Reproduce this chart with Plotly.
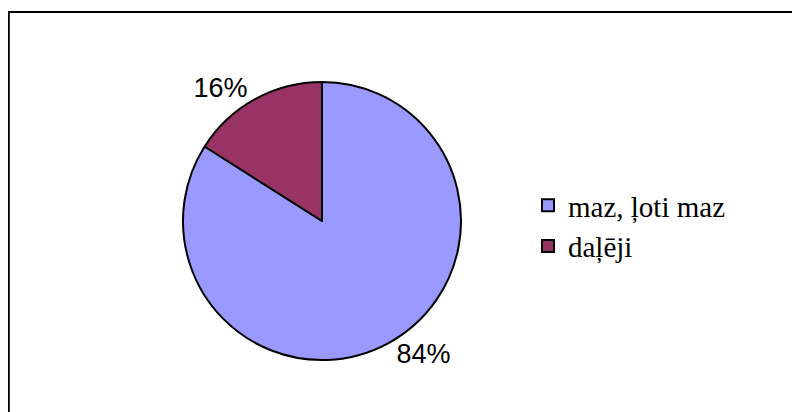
import plotly.graph_objects as go

# Data
labels = ["maz, ļoti maz", "daļēji"]
values = [84, 16]
colors = ["#9999FF", "#993366"]

W, H = 800, 412
OFF = 8  # page body margin shifts the figure by 8px
CX, CY, R = 322 - OFF, 221 - OFF, 139  # pie centre / radius in px

fig = go.Figure()
fig.add_trace(go.Pie(
    labels=labels, values=values,
    sort=False, direction="clockwise", rotation=0,
    marker=dict(colors=colors, line=dict(color="black", width=2)),
    textinfo="percent", textposition="outside",
    textfont=dict(family="Liberation Sans, Arial", size=27, color="black"),
    domain=dict(x=[(CX - R) / W, (CX + R) / W], y=[1 - (CY + R) / H, 1 - (CY - R) / H]),
    hoverinfo="label+percent",
))

fig.update_layout(
    width=W, height=H,
    margin=dict(l=0, r=0, t=0, b=0),
    paper_bgcolor="white",
    showlegend=True,
    legend=dict(
        x=(528 - OFF) / W, y=1 - (226 - OFF) / H, xanchor="left", yanchor="middle",
        font=dict(family="Liberation Serif, Times New Roman", size=29, color="black"),
        bgcolor="rgba(0,0,0,0)",
    ),
    shapes=[dict(type="rect", xref="paper", yref="paper",
                 x0=(8 - OFF) / W + 0.001, y0=-0.05, x1=1.05, y1=1 - (12 - OFF) / H,
                 line=dict(color="black", width=2), layer="below")],
)

fig.write_html("out.html")
